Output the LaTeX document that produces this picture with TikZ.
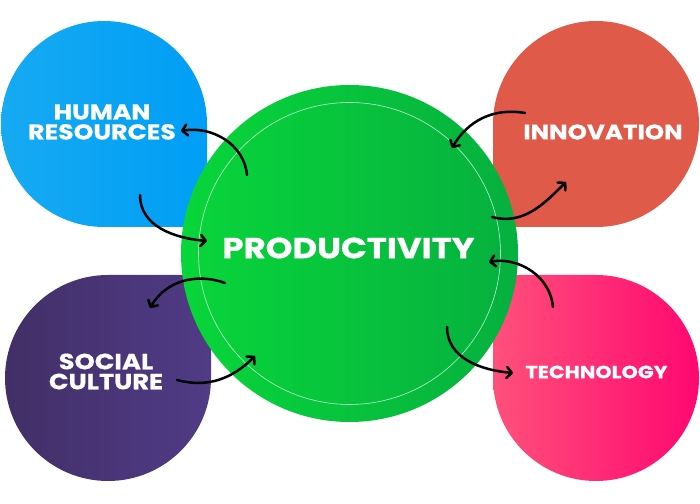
\documentclass[tikz,border=0pt]{standalone}
\usepackage{fontspec}
\setmainfont{Poppins}
\newfontfamily\widefont[FakeStretch=1.17,FakeBold=0.6]{Poppins}
\usepackage{tikz}
\usetikzlibrary{arrows.meta,calc,positioning}

\definecolor{hrleft}{RGB}{22,170,242}
\definecolor{hrright}{RGB}{0,158,246}
\definecolor{innov}{RGB}{223,90,73}
\definecolor{scleft}{RGB}{66,47,103}
\definecolor{scright}{RGB}{80,59,134}
\definecolor{techleft}{RGB}{255,80,123}
\definecolor{techright}{RGB}{255,8,112}
\definecolor{prodleft}{RGB}{8,214,58}
\definecolor{prodright}{RGB}{6,176,63}

\begin{document}
\begin{tikzpicture}[x=1pt,y=1pt,
    lbl/.style={text=white,font=\widefont\bfseries\fontsize{21.5}{20}\selectfont,align=center,inner sep=0pt},
    flow/.style={line width=2.5pt,line cap=round,-{Straight Barb[length=5pt,width=11pt,round]}}]

    \useasboundingbox (0,0) rectangle (700,503);

%   the four outer blobs, square corner towards the middle
    \shade[left color=hrleft,right color=hrright]
        (104,276) -- (207,276) -- (207,379) arc[start angle=0,end angle=270,radius=103] -- cycle;
    \fill[innov]
        (493,379) -- (493,276) -- (596,276) arc[start angle=-90,end angle=180,radius=103] -- cycle;
    \shade[left color=scleft,right color=scright]
        (211,125) -- (211,228) -- (108,228) arc[start angle=90,end angle=360,radius=103] -- cycle;
    \shade[left color=techleft,right color=techright]
        (596,228) -- (493,228) -- (493,125) arc[start angle=180,end angle=450,radius=103] -- cycle;

%   centre
    \shade[left color=prodleft,right color=prodright] (349.5,249.5) circle[radius=168.5];
    \draw[white,line width=0.6pt,opacity=0.75] (349.5,249.5) circle[radius=151];

    \node[lbl] (HR) at (102,381) {HUMAN\\RESOURCES};
    \node[lbl,font=\widefont\bfseries\fontsize{21}{20}\selectfont] (IN) at (603,371) {INNOVATION};
    \node[lbl,font=\widefont\bfseries\fontsize{22}{20}\selectfont] (SC) at (106,131.5) {SOCIAL\\CULTURE};
    \node[lbl,font=\widefont\bfseries\fontsize{17.7}{18}\selectfont] (TE) at (596.5,131) {TECHNOLOGY};
    \node[lbl,font=\widefont\bfseries\fontsize{29}{29}\selectfont] (PR) at (348.5,255) {PRODUCTIVITY};

%   arrow ends
    \coordinate (HR-a) at (247,328);  \coordinate (HR-b) at (181,372);
    \coordinate (HR-c) at (140,308);  \coordinate (HR-d) at (207,262);
    \coordinate (IN-a) at (525,390);  \coordinate (IN-b) at (452,355);
    \coordinate (IN-c) at (492,286);  \coordinate (IN-d) at (566,321);
    \coordinate (TE-a) at (553,196);  \coordinate (TE-b) at (489,241);
    \coordinate (TE-c) at (447,176);  \coordinate (TE-d) at (513,130);
    \coordinate (SC-a) at (225,220);  \coordinate (SC-b) at (150,195);
    \coordinate (SC-c) at (177,123);  \coordinate (SC-d) at (255,147);

    \draw[flow] (HR-a) to[out=95,in=10]   (HR-b);
    \draw[flow] (HR-c) to[out=-90,in=175] (HR-d);
    \draw[flow] (IN-a) to[out=170,in=60]  (IN-b);
    \draw[flow] (IN-c) to[out=-15,in=225] (IN-d);
    \draw[flow] (TE-a) to[out=95,in=10]   (TE-b);
    \draw[flow] (TE-c) to[out=-90,in=175] (TE-d);
    \draw[flow] (SC-a) to[out=160,in=60]  (SC-b);
    \draw[flow] (SC-c) to[out=-15,in=225] (SC-d);

\end{tikzpicture}
\end{document}
